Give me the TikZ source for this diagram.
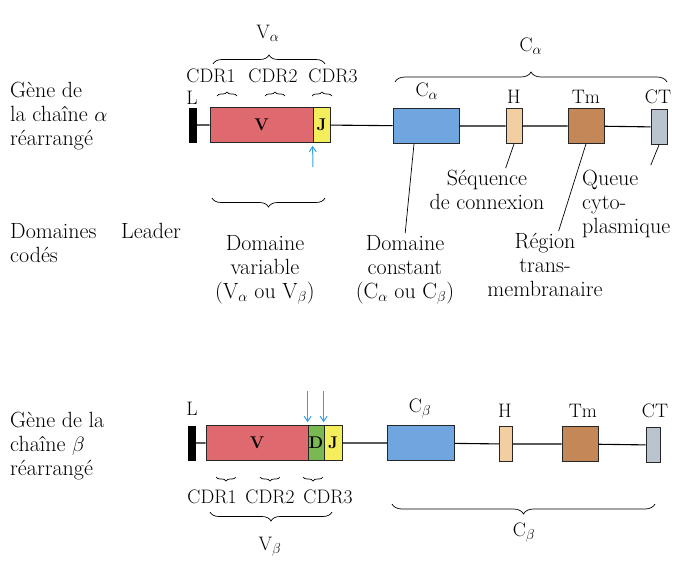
\documentclass[tikz,border=0pt]{standalone}
\usepackage{tikz}
\usetikzlibrary{positioning,arrows.meta,decorations.pathreplacing}
\definecolor{vred}{RGB}{222,106,112}
\definecolor{jyel}{RGB}{244,238,92}
\definecolor{dgreen}{RGB}{122,184,82}
\definecolor{cblue}{RGB}{112,166,224}
\definecolor{htan}{RGB}{242,206,162}
\definecolor{tmbrown}{RGB}{196,136,88}
\definecolor{ctgray}{RGB}{186,196,206}
\definecolor{cutblue}{RGB}{52,160,234}
\tikzset{
  seg/.style={draw=black!85, line width=0.8pt, inner sep=0pt, minimum height=35pt,
    font=\fontsize{17}{20}\selectfont\bfseries},
  bar/.style={fill=black, inner sep=0pt, minimum width=8pt, minimum height=35pt},
  gene/.style={line width=1.1pt},
  lab/.style={font=\fontsize{19.5}{23}\selectfont, inner sep=0pt},
  txt/.style={font=\fontsize{22}{24}\selectfont, align=center, inner sep=0pt},
  brup/.style={decorate, decoration={brace, amplitude=#1}, line width=0.7pt},
  brup/.default=4,
  brdn/.style={decorate, decoration={brace, mirror, amplitude=#1}, line width=0.7pt},
  brdn/.default=4,
  cut/.style={cutblue, line width=1pt, -{Straight Barb[length=5pt,width=7pt]}},
  pointer/.style={line width=0.7pt, shorten >=2pt}
}
\begin{document}
\begin{tikzpicture}[x=1pt, y=-1pt]
\useasboundingbox[fill=white] (0,0) rectangle (683,562);
% ---- chain alpha: segments along the gene ----
\node[bar] (aL) at (193,125) {};
\node[seg, fill=vred, minimum width=103pt] (aV) at (261.5,125) {V};
\node[seg, fill=jyel, minimum width=17pt] (aJ) at (321.5,125) {J};
\node[seg, fill=cblue, minimum width=66pt] (aC) at (426,126) {};
\node[seg, fill=htan, minimum width=16pt] (aH) at (514,126) {};
\node[seg, fill=tmbrown, minimum width=36pt] (aTm) at (586,126) {};
\node[seg, fill=ctgray, minimum width=16pt] (aCT) at (659,127) {};
\draw[gene] (aL) -- (aV) (aJ) -- (aC) -- (aH) -- (aTm) -- (aCT);
% labels over the segments
\node[lab] (aLlab) at (192,98) {L};
\node[lab] (aClab) at (427,91) {C$_\alpha$};
\node[lab] (aHlab) at (514,97) {H};
\node[lab] (aTmlab) at (586,97) {Tm};
\node[lab] (aCTlab) at (658,97) {CT};
% CDR loops and V / C braces
\foreach \x/\n in {211/1,273/2,333/3}{
  \node[lab] (aCDR\n) at (\x,76) {CDR\n};
}
\foreach \x in {227,275,322}{
  \draw[brup] ({\x-10},96) -- ({\x+10},96);
}
\draw[brup=9] (213,64) -- (325,64);
\node[lab] (aVlab) at (268,33) {V$_\alpha$};
\draw[brup=10] (395,82) -- (667,82);
\node[lab] (aCblab) at (531,46) {C$_\alpha$};
% junction
\coordinate (aCut) at (313,167);
\draw[cut] (aCut) -- ([yshift=-3pt]aJ.south west);
% ---- legend of the coded domains ----
\node[txt, align=left, anchor=north west] (aName) at (10,82) {Gène de\\la chaîne $\alpha$\\réarrangé};
\node[txt, align=left, anchor=north west] (dCod) at (10,223) {Domaines\\codés};
\node[txt, anchor=base] (dLead) at (151,238) {Leader};
\draw[brdn=9] (212,198) -- (325,198);
\node[txt, anchor=north] (dVar) at (265,235) {Domaine\\variable\\(V$_\alpha$ ou V$_\beta$)};
\node[txt, anchor=north] (dConst) at (405,235) {Domaine\\constant\\(C$_\alpha$ ou C$_\beta$)};
\node[txt, anchor=north] (dSeq) at (487,170) {Séquence\\de connexion};
\node[txt, anchor=north] (dTm) at (545,233) {Région\\trans-\\membranaire};
\node[txt, align=left, anchor=north west] (dQueue) at (582,170) {Queue\\cyto-\\plasmique};
\coordinate (qTop) at (650,167);
\draw[pointer] ([xshift=-12pt]aC.south) -- (dConst.north);
\draw[pointer] (aH.south) -- ([xshift=18pt]dSeq.north);
\draw[pointer] (aTm.south) -- ([xshift=13pt]dTm.north);
\draw[pointer] (aCT.south) -- (qTop);
% ---- chain beta ----
\node[bar] (bL) at (192,443) {};
\node[seg, fill=vred, minimum width=102pt] (bV) at (257,443) {V};
\node[seg, fill=dgreen, minimum width=16pt] (bD) at (316,443) {D};
\node[seg, fill=jyel, minimum width=18pt] (bJ) at (333,443) {J};
\node[seg, fill=cblue, minimum width=67pt] (bC) at (421,443) {};
\node[seg, fill=htan, minimum width=13pt] (bH) at (506,444) {};
\node[seg, fill=tmbrown, minimum width=36pt] (bTm) at (580,444) {};
\node[seg, fill=ctgray, minimum width=14pt] (bCT) at (653,445) {};
\draw[gene] (bL) -- (bV) (bJ) -- (bC) -- (bH) -- (bTm) -- (bCT);
\node[lab] (bLlab) at (192,409) {L};
\node[lab] (bClab) at (420,409) {C$_\beta$};
\node[lab] (bHlab) at (505,411) {H};
\node[lab] (bTmlab) at (583,411) {Tm};
\node[lab] (bCTlab) at (655,411) {CT};
% junctions V-D and D-J
\coordinate (bCut1) at ([yshift=34pt]bD.north west);
\coordinate (bCut2) at ([yshift=34pt]bJ.north west);
\draw[cut] (bCut1) -- ([yshift=3pt]bD.north west);
\draw[cut] (bCut2) -- ([yshift=3pt]bJ.north west);
% CDR loops and braces below
\foreach \x in {226,270,313}{
  \draw[brdn] ({\x-10},477) -- ({\x+10},477);
}
\foreach \x/\n in {212/1,270/2,328/3}{
  \node[lab] (bCDR\n) at (\x,497) {CDR\n};
}
\draw[brdn=9] (210,512) -- (332,512);
\node[lab] (bVlab) at (270,547) {V$_\beta$};
\draw[brdn=10] (392,504) -- (655,504);
\node[lab] (bCblab) at (524,533) {C$_\beta$};
\node[txt, align=left, anchor=north west] (bName) at (10,412) {Gène de la\\chaîne $\beta$\\réarrangé};
\end{tikzpicture}
\end{document}
